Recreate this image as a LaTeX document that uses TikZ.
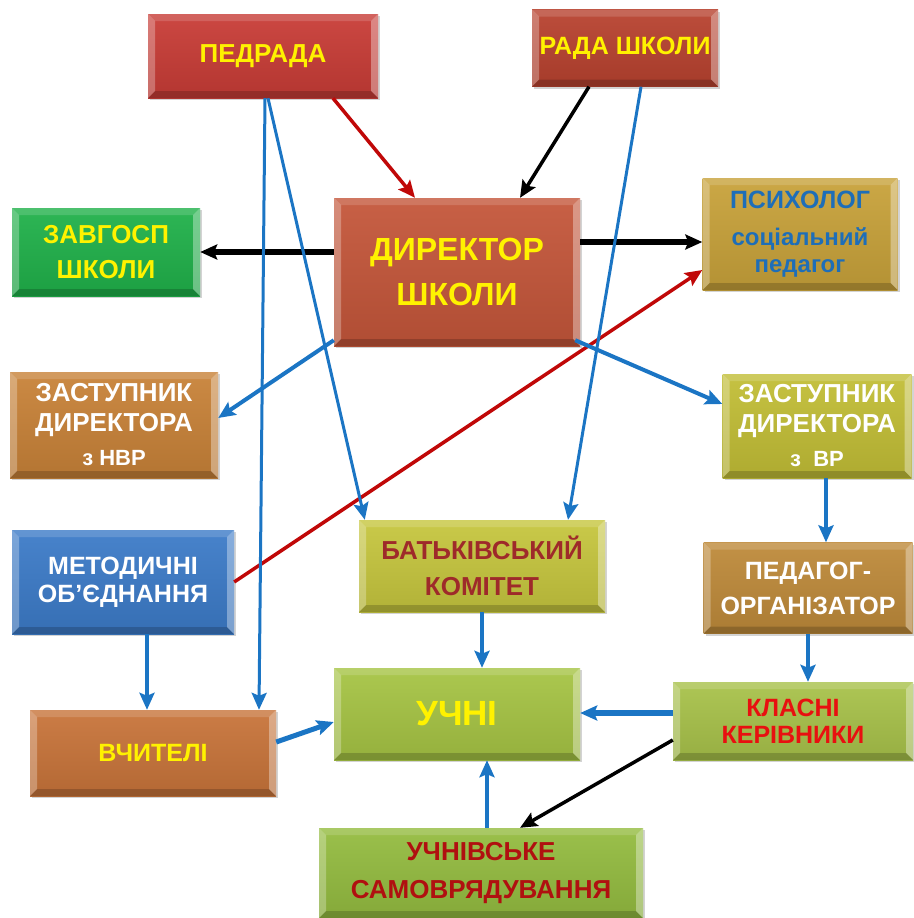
\documentclass[tikz,border=0pt]{standalone}
\usepackage{fontspec}
\setmainfont{Liberation Sans}
\usetikzlibrary{
		calc,
		positioning,
		arrows.meta,
		shadows
	}
\definecolor{cPed}{HTML}{C83C36}
\definecolor{cRada}{HTML}{B8422F}
\definecolor{cDir}{HTML}{C4563A}
\definecolor{cZav}{HTML}{20B14A}
\definecolor{cPsy}{HTML}{C8A23A}
\definecolor{cNvr}{HTML}{C88238}
\definecolor{cVr}{HTML}{C2BE36}
\definecolor{cMet}{HTML}{3C7BC8}
\definecolor{cBat}{HTML}{C6C63E}
\definecolor{cOrg}{HTML}{BE8A3A}
\definecolor{cUch}{HTML}{A6C444}
\definecolor{cVch}{HTML}{C8743A}
\definecolor{cKl}{HTML}{A8C24A}
\definecolor{cSam}{HTML}{94BC40}
\definecolor{lnBlue}{HTML}{1B75C4}
\definecolor{lnRed}{HTML}{C00808}
\definecolor{txBlue}{HTML}{1E6EB8}
\definecolor{txBrown}{HTML}{9E2A2A}
\definecolor{txRed}{HTML}{E81010}
\definecolor{txDark}{HTML}{B01010}
\tikzset{
		>={Stealth[length=17pt,width=15pt,inset=3pt]}
	}
\tikzset{
		box/.style={rectangle, inner sep=0pt, align=center,
			top color=#1!94!white, bottom color=#1!90!black,
			drop shadow={shadow xshift=2pt,shadow yshift=-2pt,opacity=.35},
			font=\bfseries\fontsize{25}{30}\selectfont,
			path picture={
				\fill[white,opacity=.28] (path picture bounding box.north west) -- (path picture bounding box.south west)
				  -- ([shift={(7pt,7pt)}]path picture bounding box.south west) -- ([shift={(7pt,-7pt)}]path picture bounding box.north west) -- cycle;
				\fill[white,opacity=.35] (path picture bounding box.north east) -- (path picture bounding box.south east)
				  -- ([shift={(-7pt,7pt)}]path picture bounding box.south east) -- ([shift={(-7pt,-7pt)}]path picture bounding box.north east) -- cycle;
				\fill[white,opacity=.15] (path picture bounding box.north west) -- (path picture bounding box.north east)
				  -- ([shift={(-7pt,-7pt)}]path picture bounding box.north east) -- ([shift={(7pt,-7pt)}]path picture bounding box.north west) -- cycle;
				\fill[black,opacity=.18] (path picture bounding box.south west) -- (path picture bounding box.south east)
				  -- ([shift={(-7pt,7pt)}]path picture bounding box.south east) -- ([shift={(7pt,7pt)}]path picture bounding box.south west) -- cycle;
			}},
		blu/.style={->, draw=lnBlue, line width=4pt},
		thin blu/.style={->, draw=lnBlue, line width=3pt},
		blk/.style={->, draw=black, line width=3.5pt},
		red/.style={->, draw=lnRed, line width=3.5pt}
	}
\begin{document}
\begin{tikzpicture}[x=1pt, y=-1pt] % one unit = one pixel of the sheet, y runs down
		\useasboundingbox (0,0) rectangle (913,918);
		% top row
		\node[box=cPed, minimum width=230pt, minimum height=84pt, text=yellow,
			font=\bfseries\fontsize{26}{30}\selectfont] (ped) at (263,56) {ПЕДРАДА};
		\node[box=cRada, minimum width=186pt, minimum height=77pt, text=yellow] (rada) at (625,48) {РАДА ШКОЛИ};
		% director row
		\node[box=cDir, minimum width=246pt, minimum height=148pt, text=yellow,
			font=\bfseries\fontsize{32}{45}\selectfont] (dir) at (457,272) {ДИРЕКТОР\\ШКОЛИ};
		\node[box=cZav, minimum width=188pt, minimum height=88pt, text=yellow,
			font=\bfseries\fontsize{26}{35}\selectfont] (zav) at (106,252) {ЗАВГОСП\\ШКОЛИ};
		\node[box=cPsy, minimum width=195pt, minimum height=112pt, text=txBlue,
			font=\bfseries\fontsize{25}{27}\selectfont] (psy) at (800,234)
			{ПСИХОЛОГ\\[10pt]{\fontsize{24}{27}\selectfont соціальний}\\{\fontsize{24}{27}\selectfont педагог}};
		% deputies
		\node[box=cNvr, minimum width=208pt, minimum height=106pt, text=white,
			font=\bfseries\fontsize{26}{30}\selectfont] (znvr) at (114,425)
			{ЗАСТУПНИК\\ДИРЕКТОРА\\[4pt]{\fontsize{22}{26}\selectfont з НВР}};
		\node[box=cVr, minimum width=189pt, minimum height=104pt, text=white,
			font=\bfseries\fontsize{26}{30}\selectfont] (zvr) at (817,426)
			{ЗАСТУПНИК\\ДИРЕКТОРА\\[4pt]{\fontsize{22}{26}\selectfont з~~ВР}};
		% middle row
		\node[box=cMet, minimum width=222pt, minimum height=104pt, text=white,
			font=\bfseries\fontsize{25}{28}\selectfont] (met) at (123,582) {МЕТОДИЧНІ\\ОБ'ЄДНАННЯ};
		\node[box=cBat, minimum width=246pt, minimum height=92pt, text=txBrown,
			font=\bfseries\fontsize{26}{36}\selectfont] (bat) at (482,566) {БАТЬКІВСЬКИЙ\\КОМІТЕТ};
		\node[box=cOrg, minimum width=209pt, minimum height=91pt, text=white,
			font=\bfseries\fontsize{25}{35}\selectfont] (org) at (808,588) {ПЕДАГОГ-\\ОРГАНІЗАТОР};
		% bottom rows
		\node[box=cUch, minimum width=246pt, minimum height=92pt, text=yellow,
			font=\bfseries\fontsize{35}{40}\selectfont] (uch) at (457,714) {УЧНІ};
		\node[box=cVch, minimum width=246pt, minimum height=86pt, text=yellow] (vch) at (153,753) {ВЧИТЕЛІ};
		\node[box=cKl, minimum width=240pt, minimum height=78pt, text=txRed,
			font=\bfseries\fontsize{25}{27}\selectfont] (kl) at (793,721) {КЛАСНІ\\КЕРІВНИКИ};
		\node[box=cSam, minimum width=324pt, minimum height=90pt, text=txDark,
			font=\bfseries\fontsize{26}{38}\selectfont] (sam) at (481,873) {УЧНІВСЬКЕ\\САМОВРЯДУВАННЯ};
		% connectors
		\draw[red] ([xshift=70pt]ped.south) -- ([xshift=-42pt]dir.north);
		\draw[blk] ([xshift=-36pt]rada.south) -- ([xshift=63pt]dir.north);
		\draw[blk, line width=6pt] ([yshift=20pt]dir.west) -- (zav.east);
		\draw[blk, line width=6pt] ([yshift=30pt]dir.east) -- ([yshift=-8pt]psy.west);
		\draw[red] (met.east) -- ([yshift=-36pt]psy.west);
		\draw[blu] ([yshift=6pt]dir.south west) -- ([yshift=7pt]znvr.east);
		\draw[blu] ([shift={(-5pt,6pt)}]dir.south east) -- ([yshift=22pt]zvr.west);
		\draw[thin blu] ([xshift=2pt]ped.south) -- ([xshift=106pt]vch.north);
		\draw[thin blu] ([xshift=5pt]ped.south) -- ([xshift=6pt]bat.north west);
		\draw[thin blu] ([xshift=16pt]rada.south) -- ([xshift=86pt]bat.north);
		\draw[blu] ([xshift=9pt]zvr.south) -- ([xshift=9pt]zvr.south |- org.north);
		\draw[blu] (bat.south) -- (bat.south |- uch.north);
		\draw[blu] ([xshift=24pt]met.south) -- ([xshift=24pt]met.south |- vch.north);
		\draw[blu] (org.south) -- (org.south |- kl.north);
		\draw[blu, line width=5pt] ([yshift=11pt]vch.east) -- ([yshift=-8pt]uch.west);
		\draw[blu, line width=6pt] ([yshift=8pt]kl.west) -- ([yshift=8pt]kl.west -| uch.east);
		\draw[blk] ([yshift=-19pt]kl.west) -- ([xshift=39pt]sam.north);
		\draw[blu] ([xshift=6pt]sam.north) -- ([xshift=6pt]sam.north |- uch.south);
	\end{tikzpicture}
\end{document}
